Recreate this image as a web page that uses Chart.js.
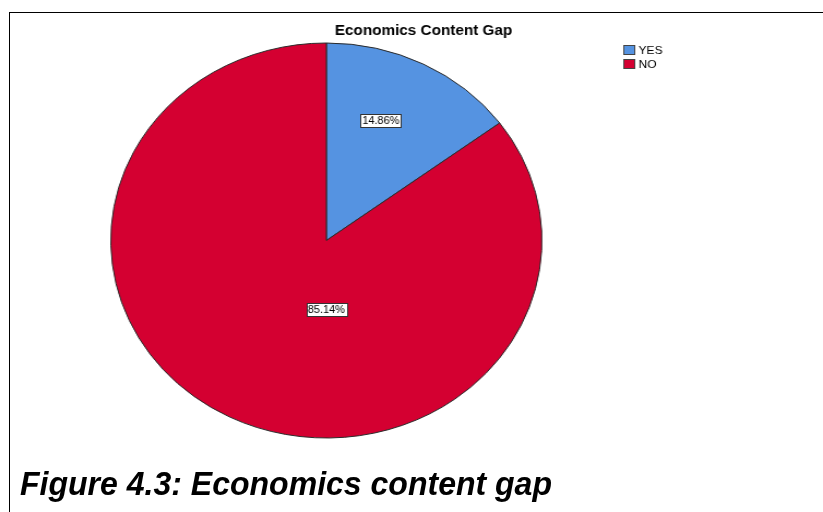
<!DOCTYPE html>
<html>
<head>
<meta charset="utf-8">
<title>Economics Content Gap</title>
<script src="https://cdn.jsdelivr.net/npm/chart.js@4.4.1/dist/chart.umd.min.js"></script>
<style>
  html, body { margin: 0; padding: 0; background: #fff; }
  body { width: 823px; height: 512px; position: relative; overflow: hidden; }
  #frame {
    position: absolute; left: 9px; top: 12px; right: 0; bottom: 0;
    border-left: 1px solid #000; border-top: 1px solid #000;
  }
  /* the chart is drawn a bit narrow and stretched sideways */
  #wrap {
    position: absolute; left: 0; top: 0; width: 754px; height: 512px;
    transform: scaleX(1.0915); transform-origin: 0 0;
  }
  #pieChart { position: absolute; left: 0; top: 0; }
  #caption {
    position: absolute; left: 20px; top: 467px;
    font: italic bold 33px "Liberation Sans", Arial, sans-serif;
    line-height: 33px; color: #000; white-space: nowrap;
    transform-origin: 0 0;
  }
</style>
</head>
<body>
<div id="frame"></div>
<div id="wrap">
  <canvas id="pieChart" width="754" height="512"></canvas>
</div>
<div id="caption">Figure 4.3: Economics content gap</div>
<script>
// answers to "Economics Content Gap"
const categories = ['YES', 'NO'];
const percents = [14.86, 85.14];
const sliceColors = ['#5593e1', '#d40031'];

const FONT = '"Liberation Sans", Arial, sans-serif';

// caption is set in a condensed cut: squeeze it to its column width
const cap = document.getElementById('caption');
cap.style.transform = 'scaleX(' + (532 / cap.getBoundingClientRect().width) + ')';

// title, legend and boxed percentage labels
const decorations = {
  id: 'decorations',
  afterDatasetsDraw(chart, args, opts) {
    const ctx = chart.ctx;
    const meta = chart.getDatasetMeta(0);
    ctx.save();

    // title
    ctx.fillStyle = '#000';
    ctx.font = 'bold 14px ' + FONT;
    ctx.textAlign = 'center';
    ctx.textBaseline = 'middle';
    ctx.fillText(opts.title, opts.titleX, opts.titleY);

    // legend
    ctx.font = '11px ' + FONT;
    ctx.textAlign = 'left';
    chart.data.labels.forEach((lab, i) => {
      const y = opts.legendY + i * 14;
      ctx.fillStyle = chart.data.datasets[0].backgroundColor[i];
      ctx.fillRect(opts.legendX, y - 5, 11, 10);
      ctx.strokeStyle = '#444';
      ctx.lineWidth = 1;
      ctx.strokeRect(opts.legendX + 0.5, y - 4.5, 10, 9);
      ctx.fillStyle = '#000';
      ctx.fillText(lab, opts.legendX + 14, y + 1);
    });

    // boxed value labels inside slices
    ctx.font = '10px ' + FONT;
    ctx.textAlign = 'center';
    meta.data.forEach((arc, i) => {
      const a = opts.anchors[i];
      const ang = a.angle * Math.PI / 180;
      const x = arc.x + Math.cos(ang) * arc.outerRadius * a.frac;
      const y = arc.y + Math.sin(ang) * arc.outerRadius * a.frac;
      const txt = chart.data.datasets[0].data[i].toFixed(2) + '%';
      const w = Math.ceil(ctx.measureText(txt).width) + 3;
      const h = 13;
      const bx = Math.round(x - w / 2) + 0.5;
      const by = Math.round(y - h / 2) + 0.5;
      ctx.fillStyle = '#fff';
      ctx.fillRect(bx, by, w, h);
      ctx.strokeStyle = '#333';
      ctx.strokeRect(bx, by, w, h);
      ctx.fillStyle = '#000';
      ctx.fillText(txt, x, y + 1);
    });
    ctx.restore();
  }
};

new Chart(document.getElementById('pieChart'), {
  type: 'pie',
  data: {
    labels: categories,
    datasets: [{
      data: percents,
      backgroundColor: sliceColors,
      borderColor: '#2a2a2a',
      borderWidth: 1
    }]
  },
  options: {
    responsive: false,
    animation: false,
    layout: {
      padding: { left: 101, right: 257, top: 42, bottom: 73 }
    },
    plugins: {
      legend: { display: false },
      tooltip: { enabled: false },
      decorations: {
        title: 'Economics Content Gap',
        titleX: 388,
        titleY: 31,
        legendX: 571,
        legendY: 50,
        anchors: [
          { angle: -67.5, frac: 0.66 },
          { angle: 90, frac: 0.35 }
        ]
      }
    }
  },
  plugins: [decorations]
});
</script>
</body>
</html>
